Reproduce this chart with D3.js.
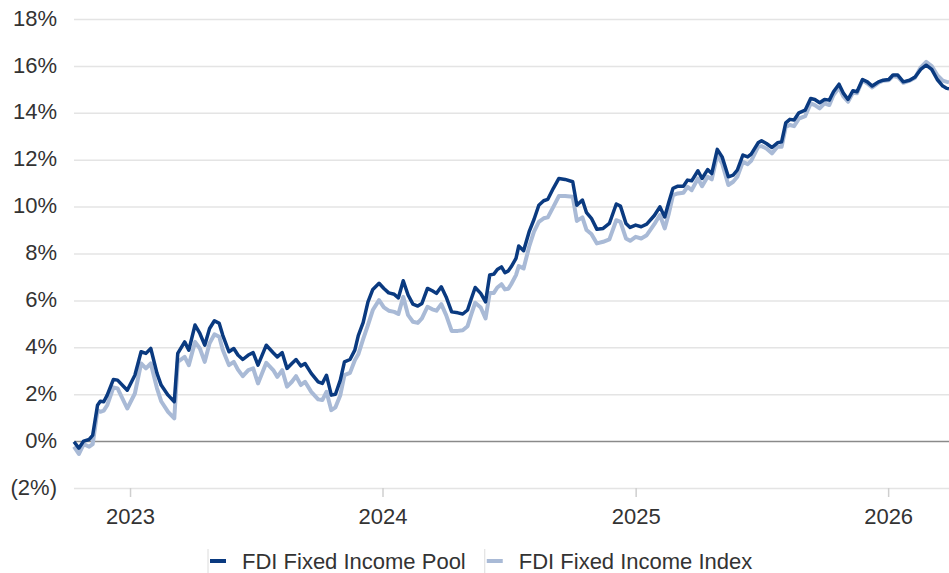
<!DOCTYPE html>
<html>
<head>
<meta charset="utf-8">
<script src="https://cdn.jsdelivr.net/npm/d3@7"></script>
<style>
  body { margin: 0; background: #fff; }
  text { font-family: "Liberation Sans", Arial, sans-serif; fill: #333; }
</style>
</head>
<body>
<svg id="chart" width="949" height="573"></svg>
<script>
const dates = [
  "2022-10-12","2022-10-19","2022-10-26","2022-11-03","2022-11-08","2022-11-15","2022-11-19","2022-11-24","2022-11-29","2022-12-08",
  "2022-12-14","2022-12-28","2023-01-08","2023-01-17","2023-01-24","2023-01-31","2023-02-09","2023-02-15","2023-02-25","2023-03-06",
  "2023-03-11","2023-03-21","2023-03-27","2023-04-05","2023-04-12","2023-04-19","2023-04-26","2023-05-03","2023-05-10","2023-05-15",
  "2023-05-24","2023-05-31","2023-06-06","2023-06-13","2023-06-21","2023-06-28","2023-07-05","2023-07-17","2023-07-27","2023-08-02",
  "2023-08-09","2023-08-16","2023-08-23","2023-08-29","2023-09-05","2023-09-11","2023-09-20","2023-09-30","2023-10-06","2023-10-12",
  "2023-10-19","2023-10-25","2023-11-01","2023-11-07","2023-11-15","2023-11-22","2023-11-27","2023-12-04","2023-12-11","2023-12-18",
  "2023-12-27","2024-01-03","2024-01-10","2024-01-18","2024-01-24","2024-01-31","2024-02-07","2024-02-14","2024-02-21","2024-02-27",
  "2024-03-06","2024-03-13","2024-03-19","2024-03-26","2024-04-02","2024-04-10","2024-04-19","2024-04-26","2024-05-03","2024-05-08",
  "2024-05-14","2024-05-22","2024-05-29","2024-06-04","2024-06-10","2024-06-15","2024-06-21","2024-06-26","2024-07-01","2024-07-05",
  "2024-07-12","2024-07-16","2024-07-23","2024-07-31","2024-08-07","2024-08-14","2024-08-21","2024-08-27","2024-09-04","2024-09-12",
  "2024-09-21","2024-10-02","2024-10-08","2024-10-16","2024-10-22","2024-10-29","2024-11-06","2024-11-15","2024-11-24","2024-12-04",
  "2024-12-10","2024-12-18","2024-12-24","2025-01-01","2025-01-09","2025-01-17","2025-01-28","2025-02-05","2025-02-12","2025-02-18",
  "2025-02-24","2025-03-03","2025-03-11","2025-03-17","2025-03-23","2025-04-01","2025-04-07","2025-04-15","2025-04-21","2025-04-29",
  "2025-05-06","2025-05-15","2025-05-22","2025-05-28","2025-06-05","2025-06-12","2025-06-17","2025-06-27","2025-07-02","2025-07-09",
  "2025-07-17","2025-07-25","2025-07-31","2025-08-06","2025-08-12","2025-08-18","2025-08-25","2025-09-03","2025-09-11","2025-09-17",
  "2025-09-24","2025-10-01","2025-10-08","2025-10-14","2025-10-22","2025-10-28","2025-11-04","2025-11-11","2025-11-17","2025-11-25",
  "2025-12-02","2025-12-09","2025-12-18","2025-12-25","2026-01-02","2026-01-08","2026-01-15","2026-01-23","2026-02-01","2026-02-09",
  "2026-02-17","2026-02-25","2026-03-05","2026-03-13","2026-03-21","2026-03-27","2026-03-30"
];

const poolValues = [
  -0.03,-0.30,0.00,0.07,0.25,1.53,1.70,1.68,1.96,2.63,
  2.60,2.17,2.81,3.81,3.74,3.95,2.89,2.39,1.96,1.68,
  3.74,4.23,3.88,4.95,4.59,4.09,4.80,5.13,5.02,4.52,
  3.81,3.95,3.67,3.48,3.67,3.77,3.24,4.09,3.77,3.59,
  3.77,3.10,3.31,3.48,3.20,3.31,2.89,2.53,2.46,2.81,
  1.96,2.00,2.60,3.38,3.48,3.88,4.50,5.05,5.94,6.47,
  6.73,6.51,6.32,6.26,6.11,6.84,6.23,5.84,5.76,5.87,
  6.51,6.41,6.30,6.58,6.15,5.51,5.47,5.42,5.59,6.04,
  6.55,6.30,5.94,7.08,7.12,7.32,7.43,7.18,7.26,7.43,
  7.79,8.32,8.12,8.93,9.45,10.06,10.25,10.31,10.78,11.20,
  11.16,11.06,10.06,10.28,9.74,9.50,9.03,9.07,9.28,10.11,
  10.02,9.28,9.11,9.21,9.14,9.25,9.62,9.99,9.56,10.20,
  10.78,10.87,10.87,11.13,11.10,11.53,11.20,11.58,11.41,12.44,
  12.12,11.27,11.34,11.56,12.20,12.12,12.24,12.72,12.81,12.69,
  12.52,12.72,12.76,13.57,13.72,13.69,14.00,14.11,14.61,14.57,
  14.43,14.57,14.54,14.90,15.22,14.85,14.57,14.94,14.90,15.42,
  15.32,15.14,15.32,15.39,15.42,15.61,15.61,15.32,15.39,15.53,
  15.85,16.03,15.85,15.42,15.14,15.04,15.02
];

const indexValues = [
  -0.24,-0.55,-0.13,-0.24,-0.13,1.32,1.25,1.30,1.53,2.29,
  2.25,1.39,2.03,3.31,3.10,3.31,2.25,1.70,1.25,0.97,
  3.38,3.59,3.24,4.23,3.95,3.38,4.17,4.55,4.45,3.90,
  3.24,3.38,3.05,2.77,3.03,3.10,2.46,3.34,3.03,2.74,
  3.03,2.32,2.53,2.77,2.39,2.53,2.10,1.78,1.75,2.10,
  1.32,1.44,1.96,2.81,2.91,3.45,3.70,4.35,4.95,5.59,
  6.01,5.70,5.56,5.51,5.42,6.15,5.37,5.09,5.04,5.23,
  5.73,5.62,5.56,5.84,5.37,4.70,4.70,4.73,4.90,5.37,
  5.90,5.70,5.23,6.32,6.32,6.55,6.69,6.47,6.50,6.69,
  7.08,7.46,7.36,8.29,8.93,9.35,9.50,9.54,9.99,10.45,
  10.45,10.42,9.39,9.54,9.00,8.83,8.43,8.50,8.60,9.42,
  9.35,8.64,8.54,8.71,8.64,8.78,9.25,9.64,9.07,9.71,
  10.49,10.56,10.59,10.84,10.70,11.20,10.87,11.27,11.16,12.20,
  11.84,10.92,11.06,11.27,11.91,11.81,11.95,12.55,12.58,12.48,
  12.27,12.55,12.55,13.40,13.48,13.43,13.75,13.86,14.40,14.33,
  14.19,14.40,14.33,14.76,15.08,14.71,14.47,14.85,14.83,15.39,
  15.25,15.08,15.28,15.37,15.39,15.57,15.53,15.28,15.37,15.50,
  15.93,16.17,15.99,15.61,15.37,15.32,15.30
];

const yTicks = [-2, 0, 2, 4, 6, 8, 10, 12, 14, 16, 18];
const seriesNames = ["FDI Fixed Income Pool", "FDI Fixed Income Index"];
const seriesColors = ["#0a3a80", "#a9bad6"];

const width = 949;
const height = 573;
const margin = { top: 19, right: 0, bottom: 85, left: 74 };

const svg = d3.select("#chart");
const parse = d3.timeParse("%Y-%m-%d");
const points = dates.map((d, i) => ({
  date: parse(d),
  pool: poolValues[i],
  index: indexValues[i],
}));

// Scales
const x = d3
  .scaleTime()
  .domain(d3.extent(points, (d) => d.date))
  .range([margin.left, width - margin.right]);
const y = d3
  .scaleLinear()
  .domain([-2, 18])
  .range([height - margin.bottom, margin.top]);

// Y axis with grid lines
const fmt = (v) => (v < 0 ? `(${-v}%)` : `${v}%`);
const yAxis = svg
  .append("g")
  .attr("transform", `translate(${margin.left},0)`)
  .call(
    d3
      .axisLeft(y)
      .tickValues(yTicks)
      .tickFormat(fmt)
      .tickSize(-(width - margin.left - margin.right))
      .tickPadding(17)
  );
yAxis.select(".domain").remove();
yAxis
  .selectAll(".tick line")
  .attr("stroke", (d) => (d === 0 ? "#8a8a8a" : "#e4e4e4"))
  .attr("stroke-width", 1.5);
yAxis
  .selectAll(".tick text")
  .attr("dy", "0.28em")
  .style("font-size", "22px")
  .style("fill", "#333");
// keep the zero line above the other grid lines
yAxis.selectAll(".tick").filter((d) => d === 0).raise();

// X axis (years)
const xAxis = svg
  .append("g")
  .attr("transform", `translate(0,${height - margin.bottom})`)
  .call(
    d3
      .axisBottom(x)
      .ticks(d3.timeYear.every(1))
      .tickFormat(d3.timeFormat("%Y"))
      .tickSize(9)
      .tickPadding(11)
  );
xAxis.select(".domain").remove();
xAxis.selectAll(".tick line").attr("stroke", "#cfcfcf").attr("stroke-width", 1.5);
xAxis.selectAll(".tick text").style("font-size", "22px").style("fill", "#333");

// Lines
const lineIndex = d3
  .line()
  .x((d) => x(d.date))
  .y((d) => y(d.index));
const linePool = d3
  .line()
  .x((d) => x(d.date))
  .y((d) => y(d.pool));

svg
  .append("path")
  .datum(points)
  .attr("fill", "none")
  .attr("stroke", seriesColors[1])
  .attr("stroke-width", 4)
  .attr("stroke-linejoin", "round")
  .attr("d", lineIndex);

svg
  .append("path")
  .datum(points)
  .attr("fill", "none")
  .attr("stroke", seriesColors[0])
  .attr("stroke-width", 3.5)
  .attr("stroke-linejoin", "round")
  .attr("d", linePool);

// Legend
const legend = svg.append("g").attr("transform", "translate(208,561)");
let offset = 0;
seriesNames.forEach((name, i) => {
  const g = legend.append("g").attr("transform", `translate(${offset},0)`);
  g.append("line")
    .attr("x1", 0).attr("x2", 0)
    .attr("y1", -12).attr("y2", 14)
    .attr("stroke", "#dcdcdc")
    .attr("stroke-width", 1);
  g.append("line")
    .attr("x1", 2).attr("x2", 18)
    .attr("y1", 0).attr("y2", 0)
    .attr("stroke", seriesColors[i])
    .attr("stroke-width", 4);
  const t = g.append("text")
    .attr("x", 34)
    .attr("y", 7.5)
    .style("font-size", "22px")
    .style("fill", "#333")
    .text(name);
  offset += 34 + t.node().getComputedTextLength() + 19;
});
</script>
</body>
</html>
